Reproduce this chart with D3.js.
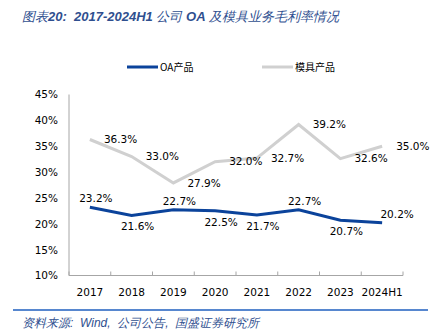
<!DOCTYPE html>
<html>
<head>
<meta charset="utf-8">
<script src="https://cdn.jsdelivr.net/npm/d3@7"></script>
<style>
  body { margin: 0; background: #fff; }
  svg { display: block; }
  .axis text { font-family: "DejaVu Sans", Verdana, sans-serif; font-size: 10.5px; fill: #000; }
  .axis path, .axis line { stroke: #a6a6a6; }
  .lbl { font-family: "DejaVu Sans", Verdana, sans-serif; font-size: 10.5px; fill: #000; }
</style>
</head>
<body>
<div id="chart"></div>
<script>
// data
var years = ["2017", "2018", "2019", "2020", "2021", "2022", "2023", "2024H1"];
var oaMargin = [23.2, 21.6, 22.7, 22.5, 21.7, 22.7, 20.7, 20.2];
var moldMargin = [36.3, 33.0, 27.9, 32.0, 32.7, 39.2, 32.6, 35.0];
var yTicks = [10, 15, 20, 25, 30, 35, 40, 45];
var seriesNames = ["OA产品", "模具产品"];
var oaLabelSide = ["above", "below", "above", "below", "below", "above", "below", "above"];

var width = 431, height = 335;
var margin = {top: 94.5, right: 28, bottom: 59.5, left: 69};

var svg = d3.select("#chart").append("svg")
    .attr("width", width)
    .attr("height", height);

// title: latin parts bold, CJK parts normal
var titleParts = [["图表", false], ["20:\u00a0\u00a02017-2024H1\u00a0", true], ["公司\u00a0", false], ["OA\u00a0", true], ["及模具业务毛利率情况", false]];
var title = svg.append("text")
    .attr("x", 22).attr("y", 21)
    .attr("fill", "#2f4f8f")
    .attr("font-family", "'Liberation Sans', Arial, sans-serif")
    .attr("font-size", 13)
    .attr("font-style", "italic");
titleParts.forEach(function(p) {
    title.append("tspan")
        .attr("font-weight", p[1] ? "bold" : "normal")
        .text(p[0]);
});

var x = d3.scaleBand()
    .domain(years)
    .range([margin.left, width - margin.right]);

var y = d3.scaleLinear()
    .domain([10, 45])
    .range([height - margin.bottom, margin.top]);

var yAxis = d3.axisLeft(y)
    .tickValues(yTicks)
    .tickSize(0)
    .tickPadding(11)
    .tickFormat(function(d) { return d + "%"; });

svg.append("g")
    .attr("class", "y-axis axis")
    .attr("transform", "translate(" + margin.left + ",0)")
    .call(yAxis)
    .call(function(g) { g.select(".domain").attr("d", "M0," + y(45) + "V" + y(10)); });

var xAxis = d3.axisBottom(x).tickSize(0).tickPadding(13);

var xg = svg.append("g")
    .attr("class", "x-axis axis")
    .attr("transform", "translate(0," + y(10) + ")")
    .call(xAxis);
xg.select(".domain").attr("d", "M" + margin.left + ",0H" + (width - margin.right));

// tick marks between categories
xg.selectAll(".sep")
    .data(d3.range(years.length + 1))
    .enter().append("line")
    .attr("class", "sep")
    .attr("x1", function(i) { return margin.left + i * x.step(); })
    .attr("x2", function(i) { return margin.left + i * x.step(); })
    .attr("y1", 0).attr("y2", -4)
    .attr("stroke", "#a6a6a6");

var cx = function(d, i) { return x(years[i]) + x.bandwidth() / 2; };

var line = d3.line()
    .x(cx)
    .y(function(d) { return y(d); });

svg.append("path")
    .datum(moldMargin)
    .attr("fill", "none")
    .attr("stroke", "#d0d0d0")
    .attr("stroke-width", 3)
    .attr("d", line);

svg.append("path")
    .datum(oaMargin)
    .attr("fill", "none")
    .attr("stroke", "#0b439b")
    .attr("stroke-width", 3)
    .attr("d", line);

// mold labels on the right of points
svg.selectAll(".moldLbl")
    .data(moldMargin)
    .enter().append("text")
    .attr("class", "lbl moldLbl")
    .attr("x", function(d, i) { return cx(d, i) + 14; })
    .attr("y", function(d) { return y(d); })
    .attr("dy", "0.35em")
    .text(function(d) { return d.toFixed(1) + "%"; });

// OA labels above / below
svg.selectAll(".oaLbl")
    .data(oaMargin)
    .enter().append("text")
    .attr("class", "lbl oaLbl")
    .attr("text-anchor", "middle")
    .attr("x", function(d, i) { return cx(d, i) + (i == years.length - 1 ? 15 : 6); })
    .attr("y", function(d, i) { return oaLabelSide[i] == "above" ? y(d) - 8.5 : y(d) + 11; })
    .attr("dy", "0.35em")
    .text(function(d) { return d.toFixed(1) + "%"; });

// legend
var legend = svg.append("g").attr("class", "legend");
var legendX = [127, 262];
var legendColors = ["#0b439b", "#d0d0d0"];
seriesNames.forEach(function(name, i) {
    legend.append("line")
        .attr("x1", legendX[i]).attr("x2", legendX[i] + 31)
        .attr("y1", 67).attr("y2", 67)
        .attr("stroke", legendColors[i])
        .attr("stroke-width", 3);
    legend.append("text")
        .attr("x", legendX[i] + 33).attr("y", 67)
        .attr("dy", "0.35em")
        .attr("font-family", "'Noto Sans CJK SC', sans-serif")
        .attr("font-size", 10)
        .text(name);
});

// footer
svg.append("line")
    .attr("x1", 13).attr("x2", 428)
    .attr("y1", 310).attr("y2", 310)
    .attr("stroke", "#1f5fbf")
    .attr("stroke-width", 1.5);

svg.append("text")
    .attr("x", 22).attr("y", 327)
    .attr("fill", "#2f4f8f")
    .attr("font-family", "'Liberation Sans', Arial, sans-serif")
    .attr("font-size", 12)
    .attr("font-style", "italic")
    .text("资料来源:\u00a0\u00a0Wind,\u00a0\u00a0公司公告,\u00a0\u00a0国盛证券研究所");
</script>
</body>
</html>
